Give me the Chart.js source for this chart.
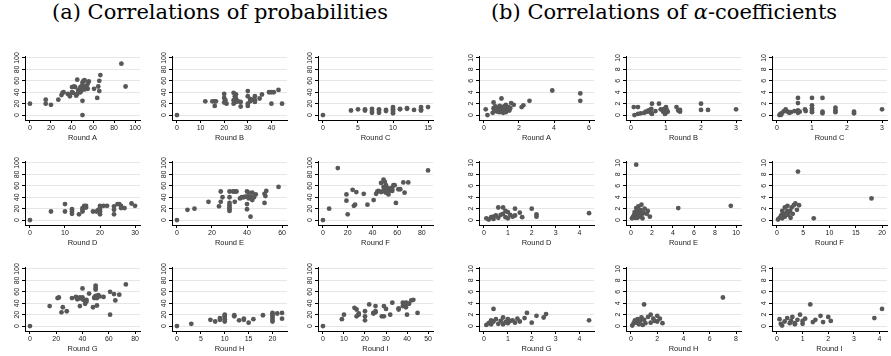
<!DOCTYPE html>
<html>
<head>
<meta charset="utf-8">
<script src="https://cdn.jsdelivr.net/npm/chart.js@4"></script>
<style>
  body { margin: 0; background: #fff; width: 891px; height: 356px; overflow: hidden; position: relative; }
  .title { position: absolute; top: 0; font-family: "DejaVu Serif", serif; font-size: 21px; line-height: 24px; text-align: center; color: #000; }
  canvas { position: absolute; }
</style>
</head>
<body>
<div class="title" style="left:0;width:440px">(a) Correlations of probabilities</div>
<div class="title" style="left:444px;width:440px">(b) Correlations of <i>α</i>-coefficients</div>
<script>
// (a) probabilities, rounds A-I
const probA_x = [0,15,15,20,27,30,31,32,36,38,40,42,43,40,41,45,44,45,48,49,51,46,48,50,51,52,50,50,55,56,54,55,61,64,65,66,66,67,87,91,50,47,53,49,52];
const probA_y = [20,27,20,18,27,35,39,40,37,33,49,50,49,40,39,62,34,37,49,43,46,43,40,57,60,61,25,0,55,59,49,46,46,30,50,42,60,70,90,50,52,45,50,50,45];
const probB_x = [0,12,15,16,16.5,16,20,20,20.5,21,20,24,25,24.5,25,24,25,24,26,27,27,30,30,31,32,30,30,31,33,33,33,35,36,39,40,41,40,43,44.5];
const probB_y = [0,24,24,24,24,16,37,30,26,20,22,39,36,33,29,26,23,20,24,23,15,42,33,28,27,20,16,24,33,26,23,29,36,40,40,40,20,44,20];
const probC_x = [0,4,5,6,7,7,7,8,8,8,9,10,10,10,10,10,11,12,13,14,14,14,15,6,9,11,12];
const probC_y = [0,8,10,8,11,7,4,10,7,4,9,14,11,9,6,3,10,11,9,14,10,8,14,10,7,11,12];
const probD_x = [0,6,10,10,12,12,12,14,15,15,15.5,16,18,19,19.5,20,20,20,20,21,22,24,24,24,25,25.5,26,26,27,29,30,15,20,16];
const probD_y = [0,15,28,15,19,15,11,10,15,21,25,25,15,15,18,15,25,21,10,25,25,24,18,10,28,28,25,21,21,29,25,18,18,22];
const probE_x = [0,6,10,18,24,25,26,25,30,32,34,30,30,30,30,30,30,33,36,37,39,40,41,43,40,41,42,40,40,42,43,45,50,50.5,50,51,58,33,38,44];
const probE_y = [0,18,20,32,24,32,40,50,50,50,50,40,30,26,22,19,16,32,38,40,41,50,48,48,41,38,41,28,19,6,35,45,46,42,30,51,58,50,40,40];
const probF_x = [0,5,12,19,19,20,24,25,26,27,33,36,41,43,44,45,47,47,49,50,51,49,50,52,53,54,55,56,56,53,55,57,58,59,61,62.5,65,66,69,85,48,51,50];
const probF_y = [0,20,91,45,34,10,53,25,27,49,46,27,35,46,50,51,49,65,71,67,61,58,53,56,49,53,56,51,54,45,55,61,61,30,54,54,66,48,66,87,50,48,56];
const probG_x = [0,15,21,22,24,25,28,32,35,37,38,38,40,40,41,42,43,43,45,48,49,50,51,50,50,50,51,52,53,56,61,61,64,65,68,73,36,40,49];
const probG_y = [0,35,49,50,24,33,26,49,51,48,50,35,66,50,46,39,46,43,57,33,49,53,49,71,67,64,36,54,52,51,60,20,56,45,55,73,47,47,50];
const probH_x = [0,3,7,8,9,9,10,10,10,10,10,12,13,14,15,16,18,20,20,20,20,20,21,22,22,14,12,20];
const probH_y = [0,4,11,8,11,14,20,16,12,8,18,17,10,11,6,12,19,23,19,15,11,8,22,23,13,13,19,21];
const probI_x = [0,9,10,15,16,16,17,20,20,20,22,24,25,25,28,29,29,30,32,33,36,38,39,39.5,39.5,40,40,41,42,43,45,24,25,17,36,38];
const probI_y = [0,12,20,32,29,17,22,26,17,10,38,23,26,35,17,17,35,30,20,41,31,41,38,33,41,40,20,39,45,46,23,22,24,20,29,35];

// (b) alpha-coefficients, rounds A-I
const alphaA_x = [0.1,0.2,0.5,0.55,0.55,0.6,0.7,0.75,0.8,0.85,0.9,0.95,1.0,1.0,1.05,1.1,1.15,1.2,1.25,1.25,1.3,1.35,1.4,1.45,1.55,1.7,2.15,2.25,2.6,3.9,5.5,5.5,0.65,0.9,1.1,1.5];
const alphaA_y = [1,0,0.4,2.2,1.2,0.8,1.1,0.6,1.3,0.9,0.5,1.0,2.9,1.3,0.7,1.1,1.5,0.9,1.8,0.5,1.2,1.0,1.4,0.8,2.1,1.8,1.4,1.7,2.5,4.3,3.8,2.5,1.5,1.6,0.4,1.2];
const alphaB_x = [0.08,0.2,0.1,0.2,0.28,0.38,0.42,0.48,0.55,0.58,0.6,0.6,0.57,0.8,0.85,0.9,0.92,0.95,1.0,1.0,1.02,0.97,1.3,1.35,1.4,1.4,2,2,2.2,3,0.5,0.7,1.05];
const alphaB_y = [1.4,1.4,0,0.2,0.3,0.4,0.6,0.6,0.9,1.1,2,0.2,0.4,2,1.0,0.9,0.6,1.1,1.4,0.4,0.9,0.2,1.4,0.8,0.6,0.9,2,0.9,0.9,1,0.8,0.7,0.6];
const alphaC_x = [0.07,0.1,0.15,0.2,0.25,0.3,0.4,0.5,0.6,0.6,0.6,0.6,0.65,0.8,0.82,1.0,1.0,1.0,1.0,1.0,1.3,1.3,1.3,1.67,1.67,1.67,2.2,2.2,3,0.12,0.35];
const alphaC_y = [0,0.2,0.4,0.7,1.0,0.6,0.5,0.7,3,2.1,0.8,0.4,0.6,1.0,0.7,3,1.7,1.2,0.8,0.5,3,0.6,0.3,1.3,0.8,0.5,0.6,0.3,1,0.05,0.4];
const alphaD_x = [0.1,0.2,0.3,0.4,0.5,0.6,0.6,0.7,0.8,0.8,0.9,1.0,1.0,1.1,1.2,1.3,1.3,1.5,1.6,2.0,2.2,2.2,4.4,0.4,0.9];
const alphaD_y = [0.3,0.1,0.5,0.6,0.8,2.2,0.4,0.9,1.1,2.2,0.5,1.4,0.3,0.9,0.6,2.0,0.8,1.3,0.5,2.0,1.0,0.6,1.2,0.2,1.6];
const alphaE_x = [0.1,0.2,0.3,0.35,0.4,0.5,0.5,0.5,0.6,0.7,0.7,0.8,0.9,1.0,1.0,1.1,1.2,1.3,1.5,1.6,1.8,4.5,9.5,0.6,1.0];
const alphaE_y = [0.3,0.6,0.9,1.4,0.4,9.7,2.1,0.8,0.4,1.1,2.4,0.6,1.8,0.9,2.7,0.3,1.2,2.0,1.1,1.6,0.6,2.1,2.5,1.6,1.5];
const alphaF_x = [0.2,0.5,0.8,1.0,1.2,1.5,1.5,1.8,2.0,2.2,2.5,2.8,3.0,3.2,3.5,3.8,4.0,4.2,2.6,7.0,18,1.0,2.0];
const alphaF_y = [0.1,0.4,0.8,1.6,1.1,2.2,0.6,1.3,2.5,0.9,1.6,2.2,1.1,2.6,2.9,1.8,8.5,2.6,0.4,0.3,3.8,0.3,1.6];
const alphaG_x = [0.1,0.2,0.3,0.4,0.4,0.5,0.6,0.7,0.8,0.8,0.9,1.0,1.0,1.1,1.2,1.3,1.4,1.5,1.7,1.8,2.0,2.2,2.5,2.6,4.4,0.3];
const alphaG_y = [0.2,0.5,0.3,3.0,0.8,1.2,0.4,0.9,1.5,0.3,0.7,1.2,0.5,0.9,1.0,0.6,1.3,0.8,1.4,2.3,0.6,1.8,1.5,2.1,1.0,1.0];
const alphaH_x = [0.1,0.2,0.3,0.4,0.5,0.6,0.7,0.8,1.0,1.0,1.1,1.3,1.5,1.5,1.7,2.0,2.0,2.2,2.4,7.0,0.9,1.8];
const alphaH_y = [0.1,0.5,1.0,0.6,1.2,0.3,0.9,1.5,3.8,1.1,0.5,1.6,2.0,0.6,1.3,1.8,0.8,1.3,0.5,5.0,0.2,0.9];
const alphaI_x = [0.1,0.15,0.2,0.3,0.4,0.5,0.55,0.6,0.7,0.8,0.9,1.0,1.0,1.1,1.3,1.4,1.5,1.7,1.8,2.0,2.1,3.8,4.1,0.7];
const alphaI_y = [1.2,0.4,0.1,0.8,1.4,0.5,0.9,1.6,0.3,1.1,2.0,0.9,0.4,1.3,3.8,0.7,1.1,1.8,0.7,1.6,0.9,1.4,3.0,0.5];

// tick labels
const probYTicks = [0, 20, 40, 60, 80, 100];
const alphaYTicks = [0, 2, 4, 6, 8, 10];
const probXTicks = [[0,20,40,60,80,100],[0,10,20,30,40],[0,5,10,15],[0,10,20,30],[0,20,40,60],[0,20,40,60,80],[0,20,40,60,80],[0,5,10,15,20],[0,10,20,30,40,50]];
const alphaXTicks = [[0,2,4,6],[0,1,2,3],[0,1,2,3],[0,1,2,3,4],[0,2,4,6,8,10],[0,5,10,15,20],[0,1,2,3,4],[0,2,4,6,8],[0,1,2,3,4]];
const rounds = ['Round A','Round B','Round C','Round D','Round E','Round F','Round G','Round H','Round I'];

const probData = [[probA_x,probA_y],[probB_x,probB_y],[probC_x,probC_y],[probD_x,probD_y],[probE_x,probE_y],[probF_x,probF_y],[probG_x,probG_y],[probH_x,probH_y],[probI_x,probI_y]];
const alphaData = [[alphaA_x,alphaA_y],[alphaB_x,alphaB_y],[alphaC_x,alphaC_y],[alphaD_x,alphaD_y],[alphaE_x,alphaE_y],[alphaF_x,alphaF_y],[alphaG_x,alphaG_y],[alphaH_x,alphaH_y],[alphaI_x,alphaI_y]];

// layout (plot area left edges / tops)
const leftCols = [25, 172, 318];
const rightCols = [479, 626, 772];
const rowTops = [55, 160, 266];
const plotW = 116, plotH = 65;
const padL = 24, padT = 3, padR = 3, padB = 22;
const font = '"Liberation Sans", Arial, sans-serif';

// y tick labels are rotated like Stata's
const yLabels = {
    id: 'yLabels',
    afterDraw(chart) {
        const s = chart.scales.y;
        const c = chart.ctx;
        c.save();
        c.fillStyle = '#222';
        c.font = '7px ' + font;
        c.textAlign = 'center';
        c.textBaseline = 'bottom';
        s.ticks.forEach(t => {
            c.save();
            c.translate(s.right - 4, s.getPixelForValue(t.value));
            c.rotate(-Math.PI / 2);
            c.fillText(String(t.value), 0, 0);
            c.restore();
        });
        c.restore();
    }
};

function panel(left, top, label, xs, ys, xTicks, yTicks) {
    const canvas = document.createElement('canvas');
    canvas.width = padL + plotW + padR;
    canvas.height = padT + plotH + padB;
    canvas.style.left = (left - padL) + 'px';
    canvas.style.top = (top - padT) + 'px';
    document.body.appendChild(canvas);

    const xHi = Math.max(xTicks[xTicks.length - 1], ...xs);
    const xPad = xHi * 5 / (plotW - 10);
    const yHi = yTicks[yTicks.length - 1];

    new Chart(canvas, {
        type: 'scatter',
        data: {
            datasets: [{
                data: xs.map((x, i) => ({ x: x, y: ys[i] })),
                pointRadius: 2.4,
                pointBackgroundColor: '#585858',
                pointBorderWidth: 0
            }]
        },
        options: {
            responsive: false,
            animation: false,
            events: [],
            layout: { padding: { top: padT, right: padR, left: 0, bottom: 0 } },
            plugins: { legend: { display: false }, tooltip: { enabled: false } },
            scales: {
                x: {
                    type: 'linear',
                    min: -xPad,
                    max: xHi + xPad,
                    afterBuildTicks: s => { s.ticks = xTicks.map(v => ({ value: v })); },
                    afterFit: s => { s.height = padB; s.paddingLeft = 0; s.paddingRight = 0; },
                    grid: { drawOnChartArea: false, tickLength: 3, tickColor: '#000' },
                    border: { color: '#000', width: 1 },
                    ticks: { font: { family: font, size: 7 }, color: '#222', padding: 1, maxRotation: 0, autoSkip: false },
                    title: { display: true, text: label, font: { family: font, size: 7.5 }, color: '#222', padding: 0 }
                },
                y: {
                    type: 'linear',
                    min: -yHi * 5 / 58,
                    max: yHi * (1 + 2 / 58),
                    afterBuildTicks: s => { s.ticks = yTicks.map(v => ({ value: v })); },
                    afterFit: s => { s.width = padL; s.paddingTop = 0; s.paddingBottom = 0; },
                    grid: { color: '#e6e6e6', tickLength: 3, tickColor: '#000' },
                    border: { color: '#000', width: 1 },
                    ticks: { display: false }
                }
            }
        },
        plugins: [yLabels]
    });
}

for (let i = 0; i < 9; i++) {
    const r = Math.floor(i / 3), c = i % 3;
    panel(leftCols[c], rowTops[r], rounds[i], probData[i][0], probData[i][1], probXTicks[i], probYTicks);
    panel(rightCols[c], rowTops[r], rounds[i], alphaData[i][0], alphaData[i][1], alphaXTicks[i], alphaYTicks);
}
</script>
</body>
</html>
